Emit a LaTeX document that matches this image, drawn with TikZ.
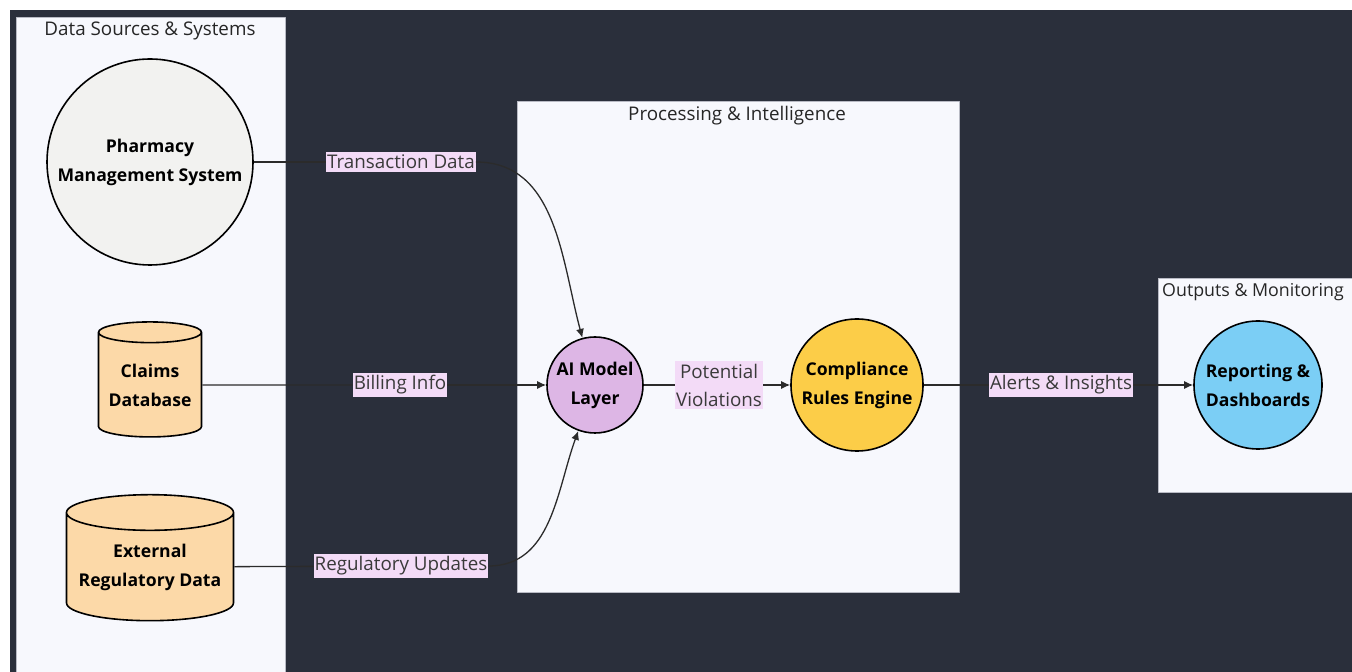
\documentclass[tikz,border=0pt]{standalone}
\usepackage{fontspec}
\setmainfont{Open Sans}
\usetikzlibrary{shapes.geometric,arrows.meta}
\definecolor{bgdark}{HTML}{2A2F3B}
\definecolor{panelbg}{HTML}{F7F8FD}
\definecolor{panelline}{HTML}{B8BAC4}
\definecolor{pharmfill}{HTML}{F2F2F0}
\definecolor{storefill}{HTML}{FCD9A8}
\definecolor{aifill}{HTML}{DDB6E5}
\definecolor{rulefill}{HTML}{FCCD48}
\definecolor{reportfill}{HTML}{7BCEF5}
\definecolor{labelfill}{HTML}{F3DBF7}
\definecolor{labeltext}{HTML}{3A3A3A}
\definecolor{edgecol}{HTML}{2B2B2B}
\begin{document}
\begin{tikzpicture}[>={Latex[length=9bp,width=8bp]},line join=bevel,
  every node/.style={font=\fontsize{18.8bp}{28bp}\selectfont},
  panel/.style={draw=panelline,fill=panelbg,line width=0.8bp},
  unit/.style={draw=black,circle,line width=1.6bp,align=center,inner sep=0pt,
    font=\fontsize{17.6bp}{29bp}\selectfont\bfseries},
  store/.style={draw=black,cylinder,shape border rotate=90,aspect=0.25,fill=storefill,
    line width=1.6bp,align=center,inner sep=0pt,font=\fontsize{17.6bp}{29bp}\selectfont\bfseries},
  flowlabel/.style={fill=labelfill,text=labeltext,inner xsep=1bp,inner ysep=3bp,align=center},
  flow/.style={draw=edgecol,line width=1.3bp}]
%%
\useasboundingbox (0bp,0bp) rectangle (1352bp,672bp);
\fill [white] (0bp,0bp) rectangle (1352bp,672bp);
\fill [bgdark] (10bp,0bp) rectangle (1352bp,662bp);
\draw [panel] (16bp,-5bp) rectangle (285bp,655bp);
\draw [panel] (517bp,80bp) rectangle (959bp,571bp);
\draw [panel] (1158bp,180bp) rectangle (1370bp,394bp);
%
\node (title_src) at (150bp,641bp) [text=black!85] {Data Sources \& Systems};
  \node (title_proc) at (737bp,556bp) [text=black!85] {Processing \& Intelligence};
  \node (title_out) at (1161bp,380bp) [anchor=west,inner sep=1bp,text=black!85,
    font=\fontsize{17.8bp}{22bp}\selectfont] {Outputs \& Monitoring};
  \node (pharm) at (150bp,510bp) [unit,fill=pharmfill,minimum size=206bp] {Pharmacy\\Management System};
  \node (claims) at (150bp,287bp) [store,minimum width=103bp,minimum height=115bp] {Claims\\Database};
  \node (extreg) at (150bp,105bp) [store,minimum width=167bp,minimum height=126bp] {External\\Regulatory Data};
  \node (ai) at (595bp,287bp) [unit,fill=aifill,minimum size=96bp] {AI Model\\Layer};
  \node (engine) at (857bp,287bp) [unit,fill=rulefill,minimum size=132bp] {Compliance\\Rules Engine};
  \node (report) at (1258bp,287bp) [unit,fill=reportfill,minimum size=128bp] {Reporting \&\\Dashboards};
  \node (lbl_trans) at (401bp,510bp) [flowlabel] {Transaction Data};
  \node (lbl_bill) at (400bp,287bp) [flowlabel] {Billing Info};
  \node (lbl_reg) at (401bp,106bp) [flowlabel] {Regulatory Updates};
  \node (lbl_viol) at (719bp,287bp) [flowlabel] {Potential\\Violations};
  \node (lbl_alert) at (1061bp,287bp) [flowlabel] {Alerts \& Insights};
  \draw [flow] (pharm) -- (lbl_trans);
  \draw [flow,->] (lbl_trans.east) to[out=0,in=105] (ai);
  \draw [flow] (claims) -- (lbl_bill);
  \draw [flow,->] (lbl_bill) -- (ai);
  \draw [flow] (extreg) -- (lbl_reg);
  \draw [flow,->] (lbl_reg.east) to[out=0,in=250] (ai);
  \draw [flow] (ai) -- (lbl_viol);
  \draw [flow,->] (lbl_viol) -- (engine);
  \draw [flow] (engine) -- (lbl_alert);
  \draw [flow,->] (lbl_alert) -- (report);
%
\end{tikzpicture}
\end{document}
